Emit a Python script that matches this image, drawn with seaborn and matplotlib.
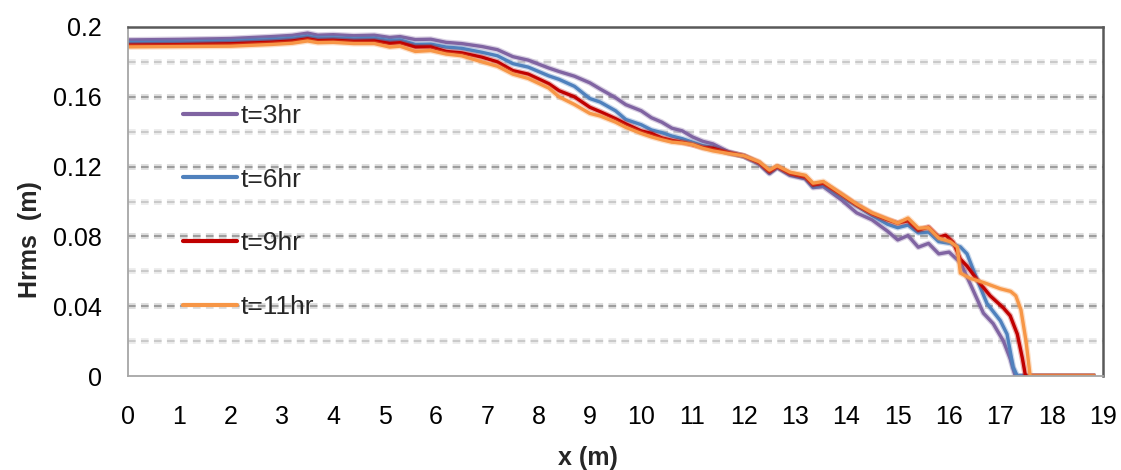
import matplotlib
matplotlib.use("Agg")
import matplotlib.pyplot as plt
import matplotlib.patheffects as pe
import seaborn as sns
import pandas as pd
import numpy as np

sns.set_style("white")
plt.rcParams['font.family'] = ['Liberation Sans', 'DejaVu Sans']

# ---------------- data ----------------
x_common = [0, 1, 2, 2.8, 3.2, 3.5, 3.7, 4.0, 4.4, 4.8, 5.1, 5.3, 5.6, 5.9, 6.2, 6.5,
            6.9, 7.2, 7.5, 7.8, 8.2, 8.4, 8.7, 9.0, 9.2, 9.5, 9.7, 10.0, 10.2, 10.4,
            10.6, 10.8, 11.0, 11.2, 11.4, 11.7, 12.0, 12.3, 12.5, 12.65, 12.9, 13.2,
            13.35, 13.55, 13.9, 14.2, 14.5, 14.8, 15.0, 15.2, 15.4, 15.6, 15.8]

h3_common = [0.1926, 0.1929, 0.1934, 0.1945, 0.1952, 0.1965, 0.1953, 0.1956, 0.1950, 0.1953,
             0.1940, 0.1945, 0.1928, 0.1930, 0.1912, 0.1905, 0.1888, 0.1870, 0.1830, 0.1810,
             0.1765, 0.1745, 0.1718, 0.1680, 0.1645, 0.1595, 0.1555, 0.1520, 0.1480, 0.1455,
             0.1420, 0.1405, 0.1370, 0.1345, 0.1330, 0.1285, 0.1260, 0.1215, 0.1160, 0.1195,
             0.1150, 0.1130, 0.1080, 0.1085, 0.1010, 0.0935, 0.0895, 0.0830, 0.0780, 0.0805,
             0.0738, 0.0760, 0.0700]
h6_common = [0.1910, 0.1913, 0.1918, 0.1928, 0.1935, 0.1946, 0.1936, 0.1938, 0.1932, 0.1935,
             0.1922, 0.1926, 0.1900, 0.1902, 0.1885, 0.1878, 0.1855, 0.1835, 0.1790, 0.1770,
             0.1720, 0.1700, 0.1660, 0.1590, 0.1570, 0.1520, 0.1470, 0.1440, 0.1410, 0.1395,
             0.1375, 0.1360, 0.1340, 0.1320, 0.1310, 0.1280, 0.1260, 0.1218, 0.1165, 0.1198,
             0.1155, 0.1135, 0.1085, 0.1095, 0.1030, 0.0975, 0.0920, 0.0870, 0.0850, 0.0865,
             0.0820, 0.0825, 0.0770]
h9_common = [0.1896, 0.1899, 0.1904, 0.1913, 0.1920, 0.1932, 0.1922, 0.1924, 0.1918, 0.1920,
             0.1906, 0.1910, 0.1885, 0.1886, 0.1860, 0.1852, 0.1827, 0.1800, 0.1750, 0.1730,
             0.1675, 0.1635, 0.1600, 0.1540, 0.1515, 0.1475, 0.1445, 0.1405, 0.1390, 0.1365,
             0.1350, 0.1340, 0.1326, 0.1310, 0.1305, 0.1280, 0.1262, 0.1222, 0.1170, 0.1200,
             0.1160, 0.1140, 0.1095, 0.1105, 0.1040, 0.0980, 0.0930, 0.0895, 0.0876, 0.0890,
             0.0836, 0.0853, 0.0795]
h11_common = [0.1886, 0.1888, 0.1890, 0.1900, 0.1907, 0.1920, 0.1910, 0.1912, 0.1905, 0.1905,
              0.1885, 0.1890, 0.1860, 0.1865, 0.1845, 0.1835, 0.1800, 0.1775, 0.1730, 0.1705,
              0.1650, 0.1600, 0.1556, 0.1505, 0.1490, 0.1455, 0.1425, 0.1390, 0.1370, 0.1354,
              0.1340, 0.1335, 0.1326, 0.1305, 0.1290, 0.1275, 0.1262, 0.1228, 0.1180, 0.1205,
              0.1168, 0.1150, 0.1105, 0.1115, 0.1045, 0.0985, 0.0935, 0.0900, 0.0876, 0.0905,
              0.0847, 0.0850, 0.0790]

x3_tail = [16.0, 16.22, 16.41, 16.67, 16.86, 17.06, 17.19, 17.29, 18.85]
h3_tail = [0.0710, 0.0650, 0.0530, 0.0360, 0.0300, 0.0200, 0.0100, 0.0, 0.0]
x6_tail = [16.02, 16.22, 16.35, 16.55, 16.74, 17.0, 17.13, 17.25, 17.33, 18.85]
h6_tail = [0.0760, 0.0740, 0.0700, 0.0550, 0.0415, 0.0317, 0.0240, 0.0050, 0.0, 0.0]
x9_tail = [15.93, 16.08, 16.22, 16.35, 16.55, 16.8, 17.06, 17.19, 17.33, 17.43, 17.49, 18.85]
h9_tail = [0.0807, 0.0767, 0.0670, 0.0630, 0.0550, 0.0460, 0.0390, 0.0346, 0.0240, 0.0100, 0.0, 0.0]
x11_tail = [16.02, 16.16, 16.22, 16.41, 16.67, 17.0, 17.2, 17.3, 17.4, 17.5, 17.58, 18.85]
h11_tail = [0.0770, 0.0740, 0.0590, 0.0560, 0.0536, 0.0500, 0.0485, 0.0460, 0.0380, 0.0200, 0.0, 0.0]

series_labels = ["t=3hr", "t=6hr", "t=9hr", "t=11hr"]
series_colors = ["#8064A2", "#4F81BD", "#C00000", "#F79646"]
x_ticks = list(range(0, 20))
y_ticks = [0, 0.04, 0.08, 0.12, 0.16, 0.2]
y_tick_labels = ["0", "0.04", "0.08", "0.12", "0.16", "0.2"]

# ---------------- build long-form table ----------------
parts = [
    (series_labels[0], x_common + x3_tail, h3_common + h3_tail),
    (series_labels[1], x_common + x6_tail, h6_common + h6_tail),
    (series_labels[2], x_common + x9_tail, h9_common + h9_tail),
    (series_labels[3], x_common + x11_tail, h11_common + h11_tail),
]
frames = [pd.DataFrame({"x": xs, "Hrms": hs, "series": lab}) for lab, xs, hs in parts]
df = pd.concat(frames, ignore_index=True)

# ---------------- figure ----------------
fig = plt.figure(figsize=(11.21, 4.70), dpi=100)
ax = fig.add_axes([128 / 1121, (470 - 376) / 470, 975 / 1121, 349 / 470])

# gridlines
for v in np.arange(0.02, 0.2, 0.02):
    major = abs((v / 0.04) - round(v / 0.04)) < 1e-6
    ax.axhline(v, color="#8c8c8c" if major else "#c0c0c0", lw=1.1,
               ls=(0, (5, 3.5)), zorder=0)

sns.lineplot(data=df, x="x", y="Hrms", hue="series", hue_order=series_labels,
             palette=dict(zip(series_labels, series_colors)), estimator=None,
             sort=False, legend=False, lw=2.4, ax=ax)

for ln in ax.lines:
    c = ln.get_color()
    ln.set_path_effects([pe.Stroke(linewidth=4.2, foreground=c, alpha=0.3), pe.Normal()])
    ln.set_solid_capstyle("butt")

ax.set_xlim(0, 19)
ax.set_ylim(0, 0.2)
ax.set_xticks(x_ticks)
ax.set_xticklabels([str(t) for t in x_ticks])
ax.set_yticks(y_ticks)
ax.set_yticklabels(y_tick_labels)
ax.tick_params(axis="both", length=0, labelsize=18, colors="black")
ax.tick_params(axis="y", pad=19)
ax.tick_params(axis="x", pad=21)

for side in ["left", "bottom"]:
    ax.spines[side].set_color("#a6a6a6")
    ax.spines[side].set_linewidth(1.3)
for side in ["top", "right"]:
    ax.spines[side].set_color("#595959")
    ax.spines[side].set_linewidth(1.8)

ax.set_xlabel("x (m)", fontsize=18, fontweight="bold")
ax.set_ylabel("Hrms  (m)", fontsize=18, fontweight="bold")
ax.xaxis.set_label_coords((588 - 128) / 975, -(458 - 376) / 349)
ax.xaxis.label.set_va("center")
ax.yaxis.set_label_coords((30 - 128) / 975, (376 - 240) / 349)
ax.yaxis.label.set_va("center")

handles = [plt.Line2D([], [], color=c, lw=3) for c in series_colors]
leg = ax.legend(handles, series_labels, loc="upper left",
                bbox_to_anchor=(183 / 1121, (470 - 104) / 470),
                bbox_transform=fig.transFigure, frameon=False, fontsize=19,
                handlelength=2.05, handletextpad=0.15, labelspacing=1.50,
                borderpad=0, borderaxespad=0)

fig.savefig("out.png", dpi=100)
